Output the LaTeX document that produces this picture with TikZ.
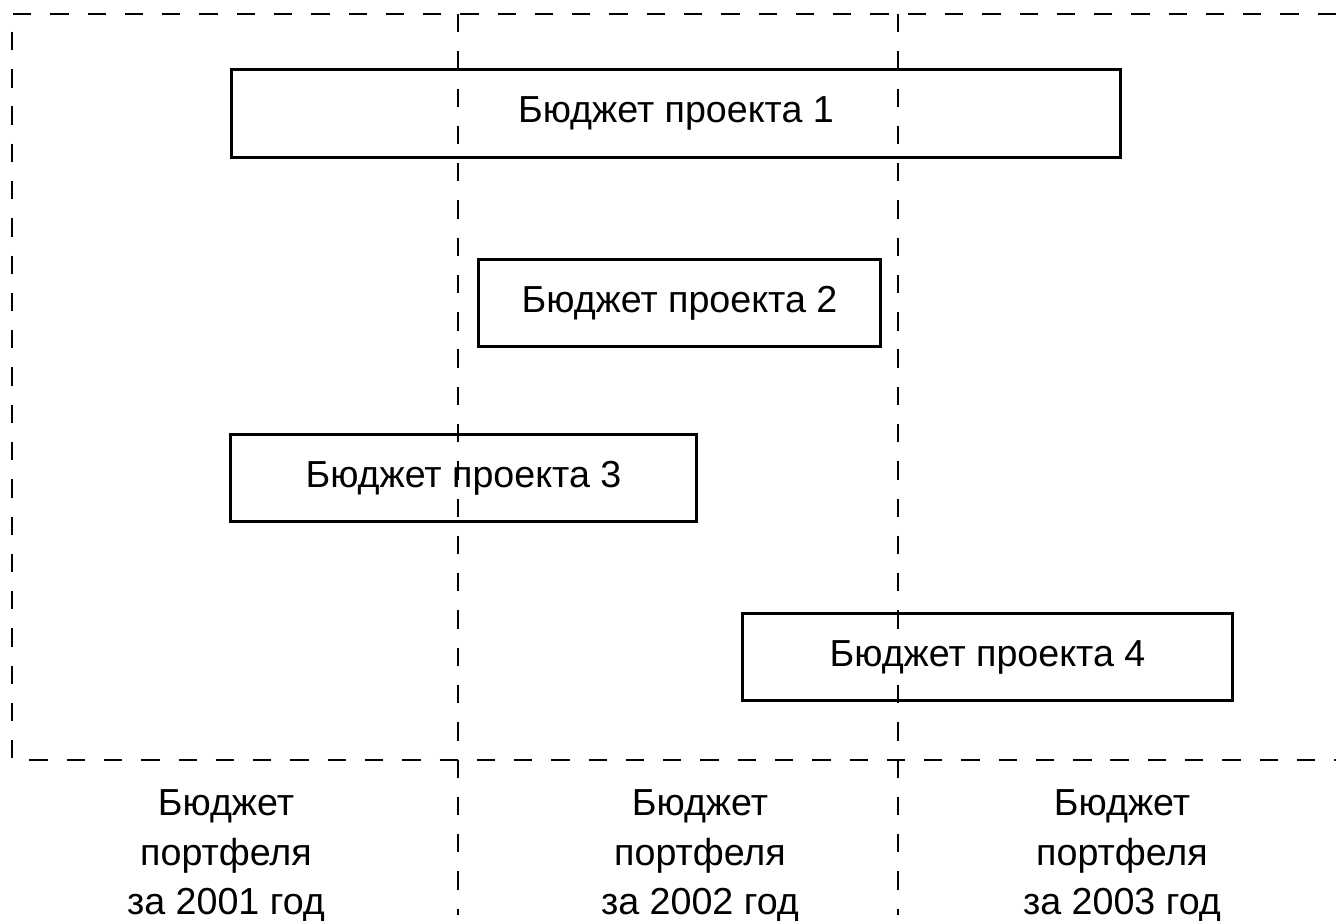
\documentclass[tikz,border=0pt]{standalone}
\usepackage{fontspec}
\setmainfont{Liberation Sans}
\usetikzlibrary{positioning}

\begin{document}
\begin{tikzpicture}[x=0.01cm,y=-0.01cm,font=\fontsize{10.7}{14}\selectfont,
  budget/.style={draw,line width=0.8pt,minimum height=0.875cm,inner sep=0pt},
  grid/.style={line width=0.7pt,dash pattern=on 5.2pt off 5.4pt}]
\useasboundingbox (0,0) rectangle (1336,921);
% project budgets
\foreach \i/\x/\y/\w in {1/676/113.5/8.88cm,2/679.5/303/4.01cm,3/463.5/478/4.65cm,4/987.5/657/4.89cm}{
  \node[budget,minimum width=\w] (p\i) at (\x,\y) {Бюджет проекта \i};
}
% portfolio frame and year borders
\draw[grid] (1336,14) -- (12,14) -- (12,760) -- (1336,760);
\draw[grid] (458,14) -- (458,915);
\draw[grid] (898,14) -- (898,915);
% yearly portfolio budgets
\foreach \i/\x in {2001/226,2002/700,2003/1122}{
  \node[align=center,inner sep=1pt] (y\i) at (\x,856) {Бюджет\\портфеля\\за \i\ год};
}
\end{tikzpicture}
\end{document}
